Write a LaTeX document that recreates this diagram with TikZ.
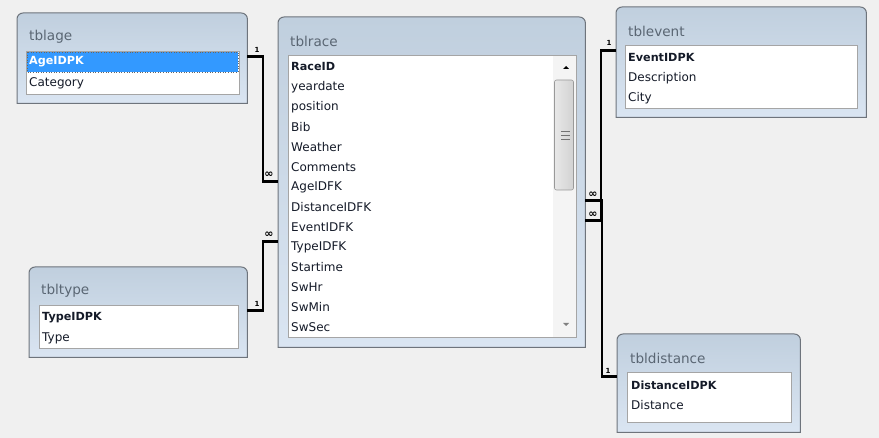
\documentclass[tikz,border=0pt]{standalone}
\usepackage{fontspec}
\setmainfont{DejaVu Sans}
\definecolor{bgC}{HTML}{F0F0F0}
\definecolor{frameC}{HTML}{6E747C}
\definecolor{topC}{HTML}{C0CFDE}
\definecolor{botC}{HTML}{DAE5F2}
\definecolor{titleC}{HTML}{5A6673}
\definecolor{listC}{HTML}{A5A5A5}
\definecolor{fldC}{HTML}{141A28}
\definecolor{hlC}{HTML}{3399FF}
\definecolor{sbC}{HTML}{F4F4F4}
\definecolor{thumbA}{HTML}{E8E8E8}
\definecolor{thumbB}{HTML}{D2D2D2}
\newcommand\tblframe[1]{\path[frame] (#1.south west) [rounded corners=6pt] -- (#1.north west) -- (#1.north east) [sharp corners] -- (#1.south east) -- cycle;}
\begin{document}
\begin{tikzpicture}[x=1pt,y=-1pt,
  tbox/.style={inner sep=0, anchor=north west},
  frame/.style={draw=frameC, line width=1pt, top color=topC, bottom color=botC},
  ttl/.style={anchor=west, inner sep=0, text=titleC, font=\fontsize{13.6}{14}\selectfont},
  listbox/.style={draw=listC, fill=white, line width=0.8pt, inner sep=0, anchor=north west},
  fld/.style={anchor=west, inner sep=0, text=fldC, font=\fontsize{12}{12}\selectfont},
  keyfld/.style={fld, font=\fontsize{11.2}{12}\selectfont\bfseries},
  thickc/.style={line width=3pt, black},
  thinc/.style={line width=1.2pt, black},
  card/.style={inner sep=0, font=\fontsize{7}{7}\selectfont\bfseries},
  inf/.style={inner sep=0, font=\fontsize{11}{11}\selectfont\bfseries}
]
\fill[bgC] (0,0) rectangle (879,438);
\useasboundingbox (0,0) rectangle (879,438);

% table outlines
\node[tbox, minimum width=230pt, minimum height=90pt] (age) at (17,13) {};
\node[tbox, minimum width=307pt, minimum height=330pt] (race) at (278,17) {};
\node[tbox, minimum width=218pt, minimum height=90pt] (type) at (29,267) {};
\node[tbox, minimum width=250pt, minimum height=110pt] (event) at (616,7) {};
\node[tbox, minimum width=183pt, minimum height=98pt] (dist) at (617,334) {};
\tblframe{age}
\tblframe{race}
\tblframe{type}
\tblframe{event}
\tblframe{dist}

% titles
\node[ttl] (ageT) at (29,37) {tblage};
\node[ttl] (raceT) at (290,41) {tblrace};
\node[ttl] (typeT) at (41,291) {tbltype};
\node[ttl] (eventT) at (628,31) {tblevent};
\node[ttl] (distT) at (630,358) {tbldistance};

% list boxes
\node[listbox, minimum width=213pt, minimum height=43pt] (ageL) at (26,51) {};
\node[listbox, minimum width=288pt, minimum height=282pt] (raceL) at (288,55) {};
\node[listbox, minimum width=199pt, minimum height=43pt] (typeL) at (39,305) {};
\node[listbox, minimum width=232pt, minimum height=63pt] (eventL) at (625,45) {};
\node[listbox, minimum width=164pt, minimum height=50pt] (distL) at (627,372) {};

% highlight
\draw[fill=hlC, draw=black!60, dotted, line width=0.6pt] (27,52) rectangle (238,72);

% scrollbar
\fill[sbC] (553,56) rectangle (575.6,336.6);
\draw[draw=black!40, line width=0.6pt, left color=thumbA, right color=thumbB, rounded corners=2pt] (554.5,80) rectangle (573.5,190);
\foreach \yy in {131,135,139} \draw[black!55, line width=0.7pt] (561,\yy) -- (570,\yy);
\fill[black] (563,69) -- (569,69) -- (566,66) -- cycle;
\fill[black!50] (563,323) -- (569,323) -- (566,326) -- cycle;

% fields
\node[keyfld, text=white] (ageF1) at (29,62) {AgeIDPK};
\node[fld] (ageF2) at (29,83) {Category};

\foreach \t [count=\i from 0] in {yeardate,position,Bib,Weather,Comments,AgeIDFK,DistanceIDFK,EventIDFK,TypeIDFK,Startime,SwHr,SwMin,SwSec}
  \node[fld] (raceF\i) at (291,{87+20*\i}) {\t};
\node[keyfld] (raceK) at (291,67) {RaceID};

\node[keyfld] (typeF1) at (42,318) {TypeIDPK};
\node[fld] (typeF2) at (42,338) {Type};

\node[keyfld] (eventF1) at (628,58) {EventIDPK};
\node[fld] (eventF2) at (628,78) {Description};
\node[fld] (eventF3) at (628,98) {City};

\node[keyfld] (distF1) at (631,385) {DistanceIDPK};
\node[fld] (distF2) at (631,405) {Distance};

% connectors
\coordinate (ja1) at (263,57);
\coordinate (ja2) at (263,182);
\coordinate (jt1) at (263,311);
\coordinate (jt2) at (263,242);
\coordinate (je1) at (601,51);
\coordinate (je2) at (601,221);
\coordinate (jd1) at (602,377);
\coordinate (jd2) at (602,201);

\draw[thinc] (ja1) -- (ja2);
\draw[thickc] (ja1 -| age.east) -- ([xshift=0.6pt]ja1);
\draw[thickc] ([xshift=-0.6pt]ja2) -- (ja2 -| race.west);

\draw[thinc] (jt1) -- (jt2);
\draw[thickc] (jt1 -| type.east) -- ([xshift=0.6pt]jt1);
\draw[thickc] ([xshift=-0.6pt]jt2) -- (jt2 -| race.west);

\draw[thinc] (je1) -- (je2);
\draw[thickc] (je1 -| event.west) -- ([xshift=-0.6pt]je1);
\draw[thickc] ([xshift=0.6pt]je2) -- (je2 -| race.east);

\draw[thinc] (jd1) -- (jd2);
\draw[thickc] (jd1 -| dist.west) -- ([xshift=-0.6pt]jd1);
\draw[thickc] ([xshift=0.6pt]jd2) -- (jd2 -| race.east);

% cardinality labels
\node[card] (c1) at (257,50) {1};
\node[inf] (c2) at (269,175) {∞};
\node[card] (c3) at (257,304) {1};
\node[card] (c5) at (609,43) {1};
\node[card] (c8) at (608,371) {1};
\node[inf] (c4) at (269,235) {∞};
\node[inf] (c6) at (593,195) {∞};
\node[inf] (c7) at (593,215) {∞};
\end{tikzpicture}
\end{document}
